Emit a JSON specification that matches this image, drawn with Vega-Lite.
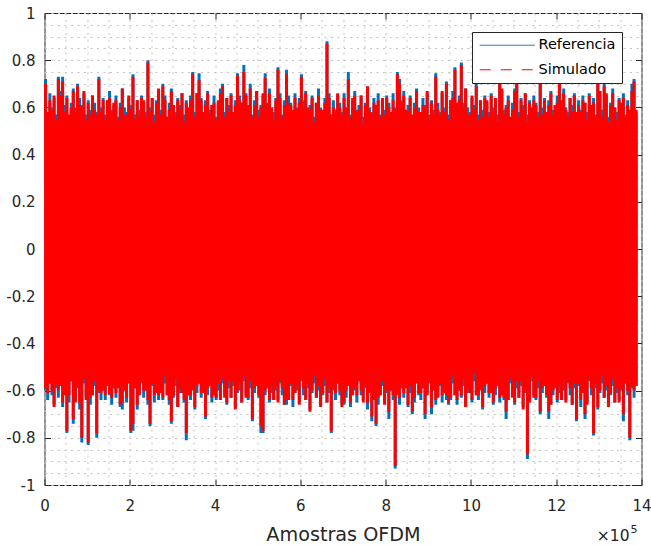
{
  "$schema": "https://vega.github.io/schema/vega-lite/v6.json",
  "width": 597,
  "height": 472,
  "autosize": {"type": "none"},
  "padding": {"left": 44.5, "top": 13, "right": 9.5, "bottom": 60},
  "background": "white",
  "config": {
    "font": "DejaVu Sans",
    "view": {"stroke": "#262626", "strokeWidth": 1}
  },
  "data": {"values": [
{"x":2500,"rh":0.72,"rl":-0.6,"sh":0.7,"sl":-0.59},
{"x":7500,"rh":0.58,"rl":-0.64,"sh":0.58,"sl":-0.61},
{"x":12500,"rh":0.66,"rl":-0.57,"sh":0.63,"sl":-0.57},
{"x":17500,"rh":0.6,"rl":-0.62,"sh":0.59,"sl":-0.6},
{"x":22500,"rh":0.64,"rl":-0.66,"sh":0.65,"sl":-0.67},
{"x":27500,"rh":0.57,"rl":-0.59,"sh":0.55,"sl":-0.58},
{"x":32500,"rh":0.73,"rl":-0.63,"sh":0.72,"sl":-0.6},
{"x":37500,"rh":0.67,"rl":-0.58,"sh":0.65,"sl":-0.58},
{"x":42500,"rh":0.73,"rl":-0.67,"sh":0.71,"sl":-0.65},
{"x":47500,"rh":0.61,"rl":-0.61,"sh":0.58,"sl":-0.62},
{"x":52500,"rh":0.65,"rl":-0.78,"sh":0.64,"sl":-0.77},
{"x":57500,"rh":0.56,"rl":-0.65,"sh":0.57,"sl":-0.62},
{"x":62500,"rh":0.62,"rl":-0.56,"sh":0.6,"sl":-0.56},
{"x":67500,"rh":0.68,"rl":-0.74,"sh":0.67,"sl":-0.72},
{"x":72500,"rh":0.6,"rl":-0.64,"sh":0.58,"sl":-0.65},
{"x":77500,"rh":0.7,"rl":-0.59,"sh":0.69,"sl":-0.58},
{"x":82500,"rh":0.64,"rl":-0.68,"sh":0.61,"sl":-0.65},
{"x":87500,"rh":0.61,"rl":-0.82,"sh":0.6,"sl":-0.8},
{"x":92500,"rh":0.66,"rl":-0.57,"sh":0.67,"sl":-0.55},
{"x":97500,"rh":0.57,"rl":-0.63,"sh":0.55,"sl":-0.64},
{"x":102500,"rh":0.63,"rl":-0.83,"sh":0.62,"sl":-0.82},
{"x":107500,"rh":0.59,"rl":-0.66,"sh":0.57,"sl":-0.63},
{"x":112500,"rh":0.65,"rl":-0.62,"sh":0.65,"sl":-0.62},
{"x":117500,"rh":0.62,"rl":-0.58,"sh":0.59,"sl":-0.56},
{"x":122500,"rh":0.58,"rl":-0.8,"sh":0.57,"sl":-0.78},
{"x":127500,"rh":0.73,"rl":-0.61,"sh":0.72,"sl":-0.6},
{"x":132500,"rh":0.6,"rl":-0.64,"sh":0.58,"sl":-0.61},
{"x":137500,"rh":0.64,"rl":-0.6,"sh":0.63,"sl":-0.6},
{"x":142500,"rh":0.57,"rl":-0.64,"sh":0.55,"sl":-0.62},
{"x":147500,"rh":0.63,"rl":-0.57,"sh":0.63,"sl":-0.58},
{"x":152500,"rh":0.67,"rl":-0.62,"sh":0.64,"sl":-0.61},
{"x":157500,"rh":0.59,"rl":-0.66,"sh":0.58,"sl":-0.63},
{"x":162500,"rh":0.61,"rl":-0.59,"sh":0.62,"sl":-0.59},
{"x":167500,"rh":0.65,"rl":-0.63,"sh":0.63,"sl":-0.61},
{"x":172500,"rh":0.56,"rl":-0.58,"sh":0.55,"sl":-0.59},
{"x":177500,"rh":0.62,"rl":-0.67,"sh":0.6,"sl":-0.66},
{"x":182500,"rh":0.68,"rl":-0.68,"sh":0.68,"sl":-0.65},
{"x":187500,"rh":0.6,"rl":-0.6,"sh":0.57,"sl":-0.6},
{"x":192500,"rh":0.58,"rl":-0.65,"sh":0.57,"sl":-0.63},
{"x":197500,"rh":0.64,"rl":-0.56,"sh":0.65,"sl":-0.57},
{"x":202500,"rh":0.61,"rl":-0.78,"sh":0.59,"sl":-0.77},
{"x":207500,"rh":0.74,"rl":-0.77,"sh":0.73,"sl":-0.74},
{"x":212500,"rh":0.57,"rl":-0.59,"sh":0.55,"sl":-0.59},
{"x":217500,"rh":0.63,"rl":-0.68,"sh":0.63,"sl":-0.66},
{"x":222500,"rh":0.59,"rl":-0.61,"sh":0.56,"sl":-0.62},
{"x":227500,"rh":0.65,"rl":-0.57,"sh":0.64,"sl":-0.56},
{"x":232500,"rh":0.62,"rl":-0.63,"sh":0.63,"sl":-0.6},
{"x":237500,"rh":0.58,"rl":-0.6,"sh":0.56,"sl":-0.6},
{"x":242500,"rh":0.8,"rl":-0.66,"sh":0.79,"sl":-0.64},
{"x":247500,"rh":0.6,"rl":-0.75,"sh":0.58,"sl":-0.74},
{"x":252500,"rh":0.64,"rl":-0.58,"sh":0.64,"sl":-0.57},
{"x":257500,"rh":0.57,"rl":-0.65,"sh":0.54,"sl":-0.62},
{"x":262500,"rh":0.63,"rl":-0.61,"sh":0.62,"sl":-0.61},
{"x":267500,"rh":0.67,"rl":-0.64,"sh":0.68,"sl":-0.62},
{"x":272500,"rh":0.59,"rl":-0.6,"sh":0.57,"sl":-0.61},
{"x":277500,"rh":0.7,"rl":-0.64,"sh":0.69,"sl":-0.63},
{"x":282500,"rh":0.65,"rl":-0.57,"sh":0.63,"sl":-0.54},
{"x":287500,"rh":0.56,"rl":-0.62,"sh":0.56,"sl":-0.62},
{"x":292500,"rh":0.62,"rl":-0.66,"sh":0.59,"sl":-0.64},
{"x":297500,"rh":0.68,"rl":-0.74,"sh":0.67,"sl":-0.73},
{"x":302500,"rh":0.6,"rl":-0.63,"sh":0.61,"sl":-0.62},
{"x":307500,"rh":0.58,"rl":-0.58,"sh":0.56,"sl":-0.55},
{"x":312500,"rh":0.64,"rl":-0.67,"sh":0.63,"sl":-0.67},
{"x":317500,"rh":0.61,"rl":-0.61,"sh":0.59,"sl":-0.59},
{"x":322500,"rh":0.66,"rl":-0.6,"sh":0.66,"sl":-0.61},
{"x":327500,"rh":0.57,"rl":-0.65,"sh":0.54,"sl":-0.64},
{"x":332500,"rh":0.63,"rl":-0.81,"sh":0.62,"sl":-0.78},
{"x":337500,"rh":0.59,"rl":-0.62,"sh":0.6,"sl":-0.62},
{"x":342500,"rh":0.65,"rl":-0.64,"sh":0.63,"sl":-0.62},
{"x":347500,"rh":0.75,"rl":-0.59,"sh":0.74,"sl":-0.6},
{"x":352500,"rh":0.58,"rl":-0.68,"sh":0.56,"sl":-0.67},
{"x":357500,"rh":0.66,"rl":-0.61,"sh":0.66,"sl":-0.58},
{"x":362500,"rh":0.745,"rl":-0.57,"sh":0.715,"sl":-0.57},
{"x":367500,"rh":0.64,"rl":-0.63,"sh":0.63,"sl":-0.61},
{"x":372500,"rh":0.57,"rl":-0.6,"sh":0.58,"sl":-0.61},
{"x":377500,"rh":0.63,"rl":-0.72,"sh":0.61,"sl":-0.71},
{"x":382500,"rh":0.67,"rl":-0.62,"sh":0.66,"sl":-0.59},
{"x":387500,"rh":0.59,"rl":-0.58,"sh":0.57,"sl":-0.58},
{"x":392500,"rh":0.61,"rl":-0.65,"sh":0.61,"sl":-0.63},
{"x":397500,"rh":0.65,"rl":-0.61,"sh":0.62,"sl":-0.62},
{"x":402500,"rh":0.56,"rl":-0.64,"sh":0.55,"sl":-0.63},
{"x":407500,"rh":0.62,"rl":-0.6,"sh":0.63,"sl":-0.57},
{"x":412500,"rh":0.68,"rl":-0.64,"sh":0.66,"sl":-0.64},
{"x":417500,"rh":0.7,"rl":-0.57,"sh":0.69,"sl":-0.55},
{"x":422500,"rh":0.58,"rl":-0.62,"sh":0.56,"sl":-0.63},
{"x":427500,"rh":0.64,"rl":-0.66,"sh":0.64,"sl":-0.65},
{"x":432500,"rh":0.61,"rl":-0.59,"sh":0.58,"sl":-0.56},
{"x":437500,"rh":0.66,"rl":-0.63,"sh":0.65,"sl":-0.63},
{"x":442500,"rh":0.57,"rl":-0.58,"sh":0.58,"sl":-0.56},
{"x":447500,"rh":0.63,"rl":-0.67,"sh":0.61,"sl":-0.68},
{"x":452500,"rh":0.745,"rl":-0.61,"sh":0.735,"sl":-0.6},
{"x":457500,"rh":0.65,"rl":-0.6,"sh":0.63,"sl":-0.57},
{"x":462500,"rh":0.62,"rl":-0.65,"sh":0.62,"sl":-0.65},
{"x":467500,"rh":0.78,"rl":-0.56,"sh":0.75,"sl":-0.54},
{"x":472500,"rh":0.66,"rl":-0.62,"sh":0.65,"sl":-0.63},
{"x":477500,"rh":0.6,"rl":-0.64,"sh":0.61,"sl":-0.63},
{"x":482500,"rh":0.7,"rl":-0.59,"sh":0.68,"sl":-0.56},
{"x":487500,"rh":0.57,"rl":-0.73,"sh":0.56,"sl":-0.72},
{"x":492500,"rh":0.63,"rl":-0.61,"sh":0.61,"sl":-0.59},
{"x":497500,"rh":0.67,"rl":-0.57,"sh":0.67,"sl":-0.58},
{"x":502500,"rh":0.59,"rl":-0.63,"sh":0.56,"sl":-0.62},
{"x":507500,"rh":0.61,"rl":-0.78,"sh":0.6,"sl":-0.75},
{"x":512500,"rh":0.65,"rl":-0.78,"sh":0.66,"sl":-0.77},
{"x":517500,"rh":0.745,"rl":-0.62,"sh":0.725,"sl":-0.6},
{"x":522500,"rh":0.62,"rl":-0.58,"sh":0.61,"sl":-0.59},
{"x":527500,"rh":0.68,"rl":-0.65,"sh":0.66,"sl":-0.64},
{"x":532500,"rh":0.6,"rl":-0.61,"sh":0.6,"sl":-0.58},
{"x":537500,"rh":0.58,"rl":-0.64,"sh":0.55,"sl":-0.64},
{"x":542500,"rh":0.64,"rl":-0.6,"sh":0.63,"sl":-0.58},
{"x":547500,"rh":0.77,"rl":-0.64,"sh":0.76,"sl":-0.65},
{"x":552500,"rh":0.66,"rl":-0.57,"sh":0.64,"sl":-0.56},
{"x":557500,"rh":0.57,"rl":-0.62,"sh":0.56,"sl":-0.59},
{"x":562500,"rh":0.63,"rl":-0.66,"sh":0.61,"sl":-0.66},
{"x":567500,"rh":0.76,"rl":-0.66,"sh":0.74,"sl":-0.64},
{"x":572500,"rh":0.65,"rl":-0.63,"sh":0.62,"sl":-0.64},
{"x":577500,"rh":0.62,"rl":-0.58,"sh":0.61,"sl":-0.57},
{"x":582500,"rh":0.58,"rl":-0.67,"sh":0.59,"sl":-0.64},
{"x":587500,"rh":0.66,"rl":-0.61,"sh":0.64,"sl":-0.61},
{"x":592500,"rh":0.6,"rl":-0.6,"sh":0.59,"sl":-0.58},
{"x":597500,"rh":0.64,"rl":-0.65,"sh":0.62,"sl":-0.66},
{"x":602500,"rh":0.74,"rl":-0.56,"sh":0.73,"sl":-0.55},
{"x":607500,"rh":0.63,"rl":-0.62,"sh":0.6,"sl":-0.59},
{"x":612500,"rh":0.67,"rl":-0.64,"sh":0.66,"sl":-0.64},
{"x":617500,"rh":0.59,"rl":-0.59,"sh":0.6,"sl":-0.57},
{"x":622500,"rh":0.61,"rl":-0.68,"sh":0.59,"sl":-0.69},
{"x":627500,"rh":0.65,"rl":-0.61,"sh":0.64,"sl":-0.6},
{"x":632500,"rh":0.56,"rl":-0.57,"sh":0.54,"sl":-0.54},
{"x":637500,"rh":0.62,"rl":-0.63,"sh":0.62,"sl":-0.63},
{"x":642500,"rh":0.68,"rl":-0.6,"sh":0.65,"sl":-0.58},
{"x":647500,"rh":0.6,"rl":-0.66,"sh":0.59,"sl":-0.67},
{"x":652500,"rh":0.58,"rl":-0.62,"sh":0.59,"sl":-0.61},
{"x":657500,"rh":0.64,"rl":-0.58,"sh":0.62,"sl":-0.55},
{"x":662500,"rh":0.88,"rl":-0.65,"sh":0.87,"sl":-0.65},
{"x":667500,"rh":0.66,"rl":-0.61,"sh":0.64,"sl":-0.59},
{"x":672500,"rh":0.57,"rl":-0.78,"sh":0.57,"sl":-0.77},
{"x":677500,"rh":0.63,"rl":-0.6,"sh":0.6,"sl":-0.59},
{"x":682500,"rh":0.59,"rl":-0.64,"sh":0.58,"sl":-0.61},
{"x":687500,"rh":0.65,"rl":-0.57,"sh":0.66,"sl":-0.57},
{"x":692500,"rh":0.62,"rl":-0.62,"sh":0.6,"sl":-0.6},
{"x":697500,"rh":0.58,"rl":-0.66,"sh":0.57,"sl":-0.67},
{"x":702500,"rh":0.66,"rl":-0.66,"sh":0.64,"sl":-0.65},
{"x":707500,"rh":0.6,"rl":-0.63,"sh":0.6,"sl":-0.6},
{"x":712500,"rh":0.75,"rl":-0.58,"sh":0.72,"sl":-0.58},
{"x":717500,"rh":0.57,"rl":-0.67,"sh":0.56,"sl":-0.65},
{"x":722500,"rh":0.63,"rl":-0.61,"sh":0.64,"sl":-0.62},
{"x":727500,"rh":0.67,"rl":-0.6,"sh":0.65,"sl":-0.59},
{"x":732500,"rh":0.59,"rl":-0.65,"sh":0.58,"sl":-0.62},
{"x":737500,"rh":0.61,"rl":-0.56,"sh":0.59,"sl":-0.56},
{"x":742500,"rh":0.65,"rl":-0.62,"sh":0.65,"sl":-0.6},
{"x":747500,"rh":0.56,"rl":-0.64,"sh":0.53,"sl":-0.65},
{"x":752500,"rh":0.62,"rl":-0.59,"sh":0.61,"sl":-0.58},
{"x":757500,"rh":0.68,"rl":-0.68,"sh":0.69,"sl":-0.65},
{"x":762500,"rh":0.6,"rl":-0.61,"sh":0.58,"sl":-0.61},
{"x":767500,"rh":0.58,"rl":-0.73,"sh":0.57,"sl":-0.71},
{"x":772500,"rh":0.64,"rl":-0.63,"sh":0.62,"sl":-0.64},
{"x":777500,"rh":0.61,"rl":-0.75,"sh":0.61,"sl":-0.74},
{"x":782500,"rh":0.66,"rl":-0.66,"sh":0.63,"sl":-0.63},
{"x":787500,"rh":0.57,"rl":-0.62,"sh":0.56,"sl":-0.62},
{"x":792500,"rh":0.63,"rl":-0.58,"sh":0.64,"sl":-0.56},
{"x":797500,"rh":0.59,"rl":-0.65,"sh":0.57,"sl":-0.66},
{"x":802500,"rh":0.65,"rl":-0.61,"sh":0.64,"sl":-0.6},
{"x":807500,"rh":0.62,"rl":-0.72,"sh":0.6,"sl":-0.69},
{"x":812500,"rh":0.58,"rl":-0.6,"sh":0.58,"sl":-0.6},
{"x":817500,"rh":0.66,"rl":-0.64,"sh":0.63,"sl":-0.62},
{"x":822500,"rh":0.6,"rl":-0.93,"sh":0.59,"sl":-0.92},
{"x":827500,"rh":0.75,"rl":-0.62,"sh":0.74,"sl":-0.61},
{"x":832500,"rh":0.72,"rl":-0.66,"sh":0.7,"sl":-0.63},
{"x":837500,"rh":0.63,"rl":-0.59,"sh":0.62,"sl":-0.59},
{"x":842500,"rh":0.67,"rl":-0.63,"sh":0.65,"sl":-0.61},
{"x":847500,"rh":0.59,"rl":-0.58,"sh":0.59,"sl":-0.59},
{"x":852500,"rh":0.61,"rl":-0.67,"sh":0.58,"sl":-0.66},
{"x":857500,"rh":0.65,"rl":-0.61,"sh":0.64,"sl":-0.58},
{"x":862500,"rh":0.56,"rl":-0.7,"sh":0.57,"sl":-0.69},
{"x":867500,"rh":0.62,"rl":-0.65,"sh":0.6,"sl":-0.63},
{"x":872500,"rh":0.68,"rl":-0.56,"sh":0.67,"sl":-0.57},
{"x":877500,"rh":0.6,"rl":-0.62,"sh":0.58,"sl":-0.61},
{"x":882500,"rh":0.58,"rl":-0.64,"sh":0.58,"sl":-0.61},
{"x":887500,"rh":0.64,"rl":-0.59,"sh":0.61,"sl":-0.59},
{"x":892500,"rh":0.61,"rl":-0.72,"sh":0.6,"sl":-0.7},
{"x":897500,"rh":0.66,"rl":-0.61,"sh":0.67,"sl":-0.62},
{"x":902500,"rh":0.57,"rl":-0.57,"sh":0.55,"sl":-0.56},
{"x":907500,"rh":0.63,"rl":-0.7,"sh":0.62,"sl":-0.67},
{"x":912500,"rh":0.59,"rl":-0.6,"sh":0.57,"sl":-0.6},
{"x":917500,"rh":0.745,"rl":-0.66,"sh":0.73,"sl":-0.64},
{"x":922500,"rh":0.62,"rl":-0.62,"sh":0.59,"sl":-0.63},
{"x":927500,"rh":0.58,"rl":-0.58,"sh":0.57,"sl":-0.57},
{"x":932500,"rh":0.66,"rl":-0.65,"sh":0.67,"sl":-0.62},
{"x":937500,"rh":0.6,"rl":-0.61,"sh":0.58,"sl":-0.61},
{"x":942500,"rh":0.71,"rl":-0.64,"sh":0.7,"sl":-0.62},
{"x":947500,"rh":0.57,"rl":-0.66,"sh":0.55,"sl":-0.65},
{"x":952500,"rh":0.63,"rl":-0.64,"sh":0.63,"sl":-0.63},
{"x":957500,"rh":0.67,"rl":-0.57,"sh":0.64,"sl":-0.54},
{"x":962500,"rh":0.77,"rl":-0.62,"sh":0.76,"sl":-0.62},
{"x":967500,"rh":0.61,"rl":-0.66,"sh":0.62,"sl":-0.64},
{"x":972500,"rh":0.65,"rl":-0.59,"sh":0.63,"sl":-0.6},
{"x":977500,"rh":0.79,"rl":-0.63,"sh":0.78,"sl":-0.62},
{"x":982500,"rh":0.62,"rl":-0.58,"sh":0.6,"sl":-0.55},
{"x":987500,"rh":0.68,"rl":-0.67,"sh":0.68,"sl":-0.67},
{"x":992500,"rh":0.6,"rl":-0.61,"sh":0.57,"sl":-0.59},
{"x":997500,"rh":0.58,"rl":-0.6,"sh":0.57,"sl":-0.61},
{"x":1002500,"rh":0.64,"rl":-0.65,"sh":0.65,"sl":-0.64},
{"x":1007500,"rh":0.61,"rl":-0.56,"sh":0.59,"sl":-0.53},
{"x":1012500,"rh":0.7,"rl":-0.62,"sh":0.69,"sl":-0.62},
{"x":1017500,"rh":0.57,"rl":-0.64,"sh":0.55,"sl":-0.62},
{"x":1022500,"rh":0.63,"rl":-0.59,"sh":0.63,"sl":-0.6},
{"x":1027500,"rh":0.59,"rl":-0.68,"sh":0.56,"sl":-0.67},
{"x":1032500,"rh":0.65,"rl":-0.61,"sh":0.64,"sl":-0.58},
{"x":1037500,"rh":0.62,"rl":-0.57,"sh":0.63,"sl":-0.57},
{"x":1042500,"rh":0.58,"rl":-0.63,"sh":0.56,"sl":-0.61},
{"x":1047500,"rh":0.66,"rl":-0.6,"sh":0.65,"sl":-0.61},
{"x":1052500,"rh":0.6,"rl":-0.66,"sh":0.58,"sl":-0.65},
{"x":1057500,"rh":0.64,"rl":-0.62,"sh":0.64,"sl":-0.59},
{"x":1062500,"rh":0.57,"rl":-0.58,"sh":0.54,"sl":-0.58},
{"x":1067500,"rh":0.72,"rl":-0.65,"sh":0.71,"sl":-0.63},
{"x":1072500,"rh":0.67,"rl":-0.61,"sh":0.68,"sl":-0.62},
{"x":1077500,"rh":0.59,"rl":-0.64,"sh":0.57,"sl":-0.63},
{"x":1082500,"rh":0.61,"rl":-0.72,"sh":0.6,"sl":-0.69},
{"x":1087500,"rh":0.65,"rl":-0.64,"sh":0.63,"sl":-0.64},
{"x":1092500,"rh":0.56,"rl":-0.57,"sh":0.56,"sl":-0.55},
{"x":1097500,"rh":0.62,"rl":-0.62,"sh":0.59,"sl":-0.63},
{"x":1102500,"rh":0.68,"rl":-0.66,"sh":0.67,"sl":-0.65},
{"x":1107500,"rh":0.72,"rl":-0.59,"sh":0.71,"sl":-0.56},
{"x":1112500,"rh":0.58,"rl":-0.63,"sh":0.56,"sl":-0.63},
{"x":1117500,"rh":0.64,"rl":-0.58,"sh":0.63,"sl":-0.56},
{"x":1122500,"rh":0.61,"rl":-0.67,"sh":0.59,"sl":-0.68},
{"x":1127500,"rh":0.66,"rl":-0.61,"sh":0.66,"sl":-0.6},
{"x":1132500,"rh":0.57,"rl":-0.89,"sh":0.54,"sl":-0.87},
{"x":1137500,"rh":0.63,"rl":-0.65,"sh":0.62,"sl":-0.65},
{"x":1142500,"rh":0.59,"rl":-0.56,"sh":0.6,"sl":-0.54},
{"x":1147500,"rh":0.65,"rl":-0.62,"sh":0.63,"sl":-0.63},
{"x":1152500,"rh":0.62,"rl":-0.64,"sh":0.61,"sl":-0.63},
{"x":1157500,"rh":0.58,"rl":-0.59,"sh":0.56,"sl":-0.56},
{"x":1162500,"rh":0.71,"rl":-0.7,"sh":0.7,"sl":-0.69},
{"x":1167500,"rh":0.6,"rl":-0.61,"sh":0.57,"sl":-0.59},
{"x":1172500,"rh":0.64,"rl":-0.57,"sh":0.63,"sl":-0.58},
{"x":1177500,"rh":0.57,"rl":-0.63,"sh":0.58,"sl":-0.62},
{"x":1182500,"rh":0.63,"rl":-0.72,"sh":0.61,"sl":-0.69},
{"x":1187500,"rh":0.67,"rl":-0.66,"sh":0.66,"sl":-0.66},
{"x":1192500,"rh":0.59,"rl":-0.62,"sh":0.57,"sl":-0.6},
{"x":1197500,"rh":0.61,"rl":-0.58,"sh":0.61,"sl":-0.59},
{"x":1202500,"rh":0.65,"rl":-0.65,"sh":0.62,"sl":-0.64},
{"x":1207500,"rh":0.73,"rl":-0.61,"sh":0.72,"sl":-0.58},
{"x":1212500,"rh":0.62,"rl":-0.64,"sh":0.63,"sl":-0.64},
{"x":1217500,"rh":0.68,"rl":-0.6,"sh":0.66,"sl":-0.58},
{"x":1222500,"rh":0.6,"rl":-0.64,"sh":0.59,"sl":-0.65},
{"x":1227500,"rh":0.58,"rl":-0.57,"sh":0.56,"sl":-0.56},
{"x":1232500,"rh":0.64,"rl":-0.62,"sh":0.64,"sl":-0.59},
{"x":1237500,"rh":0.61,"rl":-0.66,"sh":0.58,"sl":-0.66},
{"x":1242500,"rh":0.66,"rl":-0.59,"sh":0.65,"sl":-0.57},
{"x":1247500,"rh":0.57,"rl":-0.73,"sh":0.58,"sl":-0.72},
{"x":1252500,"rh":0.63,"rl":-0.58,"sh":0.61,"sl":-0.57},
{"x":1257500,"rh":0.59,"rl":-0.67,"sh":0.58,"sl":-0.64},
{"x":1262500,"rh":0.65,"rl":-0.61,"sh":0.63,"sl":-0.61},
{"x":1267500,"rh":0.62,"rl":-0.72,"sh":0.62,"sl":-0.7},
{"x":1272500,"rh":0.58,"rl":-0.65,"sh":0.55,"sl":-0.66},
{"x":1277500,"rh":0.66,"rl":-0.56,"sh":0.65,"sl":-0.55},
{"x":1282500,"rh":0.6,"rl":-0.62,"sh":0.61,"sl":-0.59},
{"x":1287500,"rh":0.64,"rl":-0.79,"sh":0.62,"sl":-0.78},
{"x":1292500,"rh":0.57,"rl":-0.59,"sh":0.56,"sl":-0.57},
{"x":1297500,"rh":0.73,"rl":-0.68,"sh":0.71,"sl":-0.67},
{"x":1302500,"rh":0.67,"rl":-0.61,"sh":0.67,"sl":-0.6},
{"x":1307500,"rh":0.59,"rl":-0.57,"sh":0.56,"sl":-0.54},
{"x":1312500,"rh":0.7,"rl":-0.63,"sh":0.69,"sl":-0.63},
{"x":1317500,"rh":0.65,"rl":-0.6,"sh":0.66,"sl":-0.58},
{"x":1322500,"rh":0.56,"rl":-0.66,"sh":0.54,"sl":-0.67},
{"x":1327500,"rh":0.62,"rl":-0.62,"sh":0.61,"sl":-0.61},
{"x":1332500,"rh":0.68,"rl":-0.58,"sh":0.66,"sl":-0.55},
{"x":1337500,"rh":0.6,"rl":-0.65,"sh":0.6,"sl":-0.65},
{"x":1342500,"rh":0.58,"rl":-0.61,"sh":0.55,"sl":-0.59},
{"x":1347500,"rh":0.64,"rl":-0.64,"sh":0.63,"sl":-0.65},
{"x":1352500,"rh":0.61,"rl":-0.6,"sh":0.62,"sl":-0.59},
{"x":1357500,"rh":0.66,"rl":-0.73,"sh":0.64,"sl":-0.7},
{"x":1362500,"rh":0.57,"rl":-0.57,"sh":0.56,"sl":-0.57},
{"x":1367500,"rh":0.63,"rl":-0.62,"sh":0.61,"sl":-0.6},
{"x":1372500,"rh":0.59,"rl":-0.81,"sh":0.59,"sl":-0.8},
{"x":1377500,"rh":0.7,"rl":-0.59,"sh":0.67,"sl":-0.58},
{"x":1382500,"rh":0.72,"rl":-0.63,"sh":0.71,"sl":-0.6},
{"x":1387500,"rh":0.58,"rl":-0.58,"sh":0.59,"sl":-0.58}
  ]},
  "layer": [
    {
      "mark": {"type": "rule", "strokeWidth": 3},
      "encoding": {
        "x": {
          "field": "x", "type": "quantitative",
          "scale": {"domain": [0, 1400000], "nice": false, "zero": false},
          "axis": {
            "orient": "bottom",
            "values": [0,50000,100000,150000,200000,250000,300000,350000,400000,450000,500000,550000,600000,650000,700000,750000,800000,850000,900000,950000,1000000,1050000,1100000,1150000,1200000,1250000,1300000,1350000,1400000],
            "domain": false,
            "grid": true, "gridColor": "#c4c4c4", "gridDash": [2, 4.5], "gridWidth": 1,
            "tickSize": -6, "tickColor": "#262626", "tickWidth": 1,
            "tickOpacity": {"condition": {"test": "datum.value % 200000 === 0", "value": 1}, "value": 0},
            "labelExpr": "datum.value % 200000 === 0 ? '' + (datum.value / 100000) : ''",
            "labelFlush": false, "labelOverlap": false, "labelPadding": 19,
            "labelFont": "DejaVu Sans", "labelFontSize": 15, "labelColor": "#262626",
            "title": "Amostras OFDM", "titleFont": "DejaVu Sans", "titleFontSize": 19.2,
            "titleFontWeight": "normal", "titleColor": "#262626", "titlePadding": 12
          }
        },
        "y": {
          "field": "rl", "type": "quantitative",
          "scale": {"domain": [-1, 1], "nice": false, "zero": false},
          "axis": {
            "orient": "left",
            "values": [-1,-0.95,-0.9,-0.85,-0.8,-0.75,-0.7,-0.65,-0.6,-0.55,-0.5,-0.45,-0.4,-0.35,-0.3,-0.25,-0.2,-0.15,-0.1,-0.05,0,0.05,0.1,0.15,0.2,0.25,0.3,0.35,0.4,0.45,0.5,0.55,0.6,0.65,0.7,0.75,0.8,0.85,0.9,0.95,1],
            "domain": false,
            "grid": true, "gridColor": "#c4c4c4", "gridDash": [2, 4.5], "gridWidth": 1,
            "tickSize": -6, "tickColor": "#262626", "tickWidth": 1,
            "tickOpacity": {"condition": {"test": "abs(round(datum.value * 100)) % 20 === 0", "value": 1}, "value": 0},
            "labelExpr": "abs(round(datum.value * 100)) % 20 === 0 ? '' + datum.value : ''",
            "labelFlush": false, "labelOverlap": false, "labelPadding": 15.5,
            "labelFont": "DejaVu Sans", "labelFontSize": 15, "labelColor": "#262626",
            "title": null
          }
        },
        "y2": {"field": "rh"},
        "color": {
          "datum": "Referencia", "type": "nominal",
          "scale": {"domain": ["Referencia", "Simulado"], "range": ["#0072BD", "#FF0000"]},
          "legend": {
            "orient": "none", "legendX": 427.5, "legendY": 19,
            "title": null,
            "symbolType": "M-1,0H9", "symbolSize": 121, "symbolStrokeWidth": 1,
            "labelFont": "DejaVu Sans", "labelFontSize": 14.5, "labelColor": "#000000",
            "labelOffset": 46, "rowPadding": 9.5, "padding": 6,
            "fillColor": "white", "strokeColor": "#262626",
            "encode": {
              "symbols": {
                "update": {
                  "strokeDash": {"signal": "datum.value === 'Simulado' ? [11, 10] : [1, 0]"},
                  "strokeWidth": {"value": 1},
                  "fill": {"value": "transparent"}
                }
              }
            }
          }
        }
      }
    },
    {
      "mark": {"type": "rule", "strokeWidth": 3},
      "encoding": {
        "x": {
          "field": "x", "type": "quantitative",
          "axis": {
            "orient": "top",
            "values": [0,200000,400000,600000,800000,1000000,1200000,1400000],
            "domain": false, "grid": false, "labels": false,
            "tickSize": -6, "tickColor": "#262626", "tickWidth": 1,
            "title": null
          }
        },
        "y": {
          "field": "sl", "type": "quantitative",
          "axis": {
            "orient": "right",
            "values": [-1,-0.8,-0.6,-0.4,-0.2,0,0.2,0.4,0.6,0.8,1],
            "domain": false, "grid": false, "labels": false,
            "tickSize": -6, "tickColor": "#262626", "tickWidth": 1,
            "title": null
          }
        },
        "y2": {"field": "sh"},
        "color": {"datum": "Simulado", "type": "nominal"}
      }
    },
    {
      "data": {"values": [{"t": "×10"}]},
      "mark": {"type": "text", "align": "right", "baseline": "alphabetic", "dx": -12, "dy": 56, "font": "DejaVu Sans", "fontSize": 15.5, "color": "#262626"},
      "encoding": {
        "x": {"datum": 1400000, "type": "quantitative", "axis": null},
        "y": {"datum": -1, "type": "quantitative", "axis": null},
        "text": {"field": "t"}
      }
    },
    {
      "data": {"values": [{"t": "5"}]},
      "mark": {"type": "text", "align": "left", "baseline": "alphabetic", "dx": -11, "dy": 48, "font": "DejaVu Sans", "fontSize": 11, "color": "#262626"},
      "encoding": {
        "x": {"datum": 1400000, "type": "quantitative", "axis": null},
        "y": {"datum": -1, "type": "quantitative", "axis": null},
        "text": {"field": "t"}
      }
    }
  ],
  "resolve": {"axis": {"x": "independent", "y": "independent"}}
}
